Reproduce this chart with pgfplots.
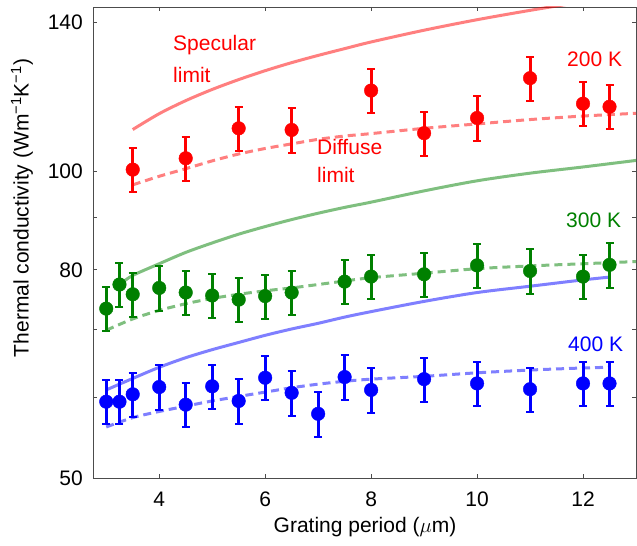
\documentclass[border=0pt]{standalone}
\usepackage{fontspec}
\setmainfont{Liberation Sans}
\usepackage{pgfplots}
\usepackage{pgfplotstable}
\pgfplotsset{compat=1.18}
\definecolor{mred}{RGB}{255,0,0}
\definecolor{mgreen}{RGB}{0,128,0}
\definecolor{mblue}{RGB}{0,0,255}

\pgfplotstableread{
x y
3.5 100.3
4.5 102.9
5.5 110.1
6.5 109.7
8 119.9
9 108.9
10 112.7
11 123.3
12 116.4
12.5 115.6
}\redpts
\pgfplotstableread{
x y
3.0 73.3
3.25 77.4
3.5 75.7
4.0 76.8
4.5 76.0
5.0 75.5
5.5 74.8
6.0 75.4
6.5 76.0
7.5 77.9
8.0 78.8
9.0 79.2
10 80.8
11 79.8
12 78.8
12.5 80.9
}\greenpts
\pgfplotstableread{
x y
3.0 59.4
3.25 59.4
3.5 60.4
4.0 61.4
4.5 59.0
5.0 61.5
5.5 59.5
6.0 62.7
6.5 60.6
7.0 57.8
7.5 62.8
8.0 61.0
9.0 62.5
10 61.9
11 61.1
12 61.9
12.5 61.9
}\bluepts
\pgfplotstableread{
x y
3.5 109.8
4 113.8
4.5 117.2
5 120.2
5.5 122.9
6 125.4
6.5 127.7
7 129.8
7.5 131.8
8 133.8
9 137.4
10 140.7
11 143.7
12 146.5
13 149.1
}\redspec
\pgfplotstableread{
x y
3.5 96.9
4 98.8
4.5 100.5
5 102.3
5.5 103.9
6 105.2
6.5 106.3
7 107.4
7.5 108.2
8 108.8
9 110.1
10 111.2
11 112.3
12 113.2
13 113.9
}\reddiff
\pgfplotstableread{
x y
3.3 77.7
3.5 79.0
4 81.1
4.5 83.2
5 85.0
5.5 86.7
6 88.2
6.5 89.6
7 90.9
7.5 92.1
8 93.2
9 95.6
10 97.8
11 99.5
12 100.9
13 102.4
}\greenspec
\pgfplotstableread{
x y
3.0 69.8
3.5 71.6
4 73.0
4.5 74.1
5 75.0
5.5 75.7
6 76.3
6.5 76.8
7 77.4
7.5 78.0
8 78.6
9 79.4
10 80.2
11 80.7
12 81.1
13 81.5
}\greendiff
\pgfplotstableread{
x y
3.0 61.0
3.5 62.6
4 64.2
4.5 65.6
5 66.8
5.5 67.9
6 69.0
6.5 70.0
7 70.9
7.5 71.9
8 72.8
9 74.5
10 76.0
11 77.1
12 78.2
12.5 78.7
}\bluespec
\pgfplotstableread{
x y
3.0 56.1
3.5 57.3
4 58.1
4.5 58.8
5 59.5
5.5 60.1
6 60.7
6.5 61.3
7 61.8
7.5 62.2
8 62.5
9 62.9
10 63.4
11 63.8
12 64.1
12.5 64.2
}\bluediff

\begin{document}
\begin{tikzpicture}[font=\fontsize{21}{25}\selectfont]
\path[use as bounding box] (-93pt,-68pt) rectangle (544pt,478pt);
\begin{axis}[
  at={(0pt,0pt)}, anchor=south west,
  scale only axis, width=543pt, height=471pt,
  xmin=2.75, xmax=13,
  ymode=log, ymin=50, ymax=144.8,
  xtick={4,6,8,10,12},
  ytick={50,60,70,80,90,100,140},
  yticklabels={50,,,80,,100,140},
  minor y tick num=0,
  /pgf/number format/assume math mode=true,
  tick label style={font=\fontsize{21}{25}\selectfont},
  xticklabel style={anchor=north, inner sep=0pt, yshift=-14pt},
  yticklabel style={anchor=east, inner sep=0pt, xshift=-10pt},
  axis line style={draw=black!70, line width=0.8pt},
  major tick length=4pt,
  tick style={draw=black!70, line width=0.6pt},
  clip=true,
]
% theory lines
\addplot[mred, opacity=0.5, line width=3pt, smooth] table {\redspec};
\addplot[mred, opacity=0.5, line width=3pt, smooth, dash pattern=on 8pt off 5pt] table {\reddiff};
\addplot[mgreen, opacity=0.5, line width=3pt, smooth] table {\greenspec};
\addplot[mgreen, opacity=0.5, line width=3pt, smooth, dash pattern=on 8pt off 5pt] table {\greendiff};
\addplot[mblue, opacity=0.5, line width=3pt, smooth] table {\bluespec};
\addplot[mblue, opacity=0.5, line width=3pt, smooth, dash pattern=on 8pt off 5pt] table {\bluediff};
% data
\pgfplotsset{errstyle/.style={color=#1, only marks, mark=*, mark size=6.8pt,
   error bars/y dir=both, error bars/y fixed relative=0.05,
   error bars/error mark=|,
   error bars/error bar style={line width=3pt, color=#1},
   error bars/error mark options={line width=2pt, mark size=4pt, color=#1}}}
\addplot[errstyle=mred] table {\redpts};
\addplot[errstyle=mgreen] table {\greenpts};
\addplot[errstyle=mblue] table {\bluepts};
\end{axis}
\begin{scope}[every node/.style={inner sep=0pt}]
\node[anchor=base west, text=mred] at (80pt,427pt) {Specular};
\node[anchor=base west, text=mred] at (80pt,395pt) {limit};
\node[anchor=base west, text=mred] at (224pt,323pt) {Diffuse};
\node[anchor=base west, text=mred] at (224pt,295pt) {limit};
\node[anchor=base west, text=mred] at (474pt,411pt) {200 K};
\node[anchor=base west, text=mgreen] at (473pt,250pt) {300 K};
\node[anchor=base west, text=mblue] at (475pt,126pt) {400 K};
\node[anchor=base] at (272pt,-54pt) {Grating period ($\mu$m)};
\node[rotate=90] at (-71pt,270pt) {Thermal conductivity (Wm\textsuperscript{\char"2212 1}K\textsuperscript{\char"2212 1})};
\end{scope}
\end{tikzpicture}
\end{document}
